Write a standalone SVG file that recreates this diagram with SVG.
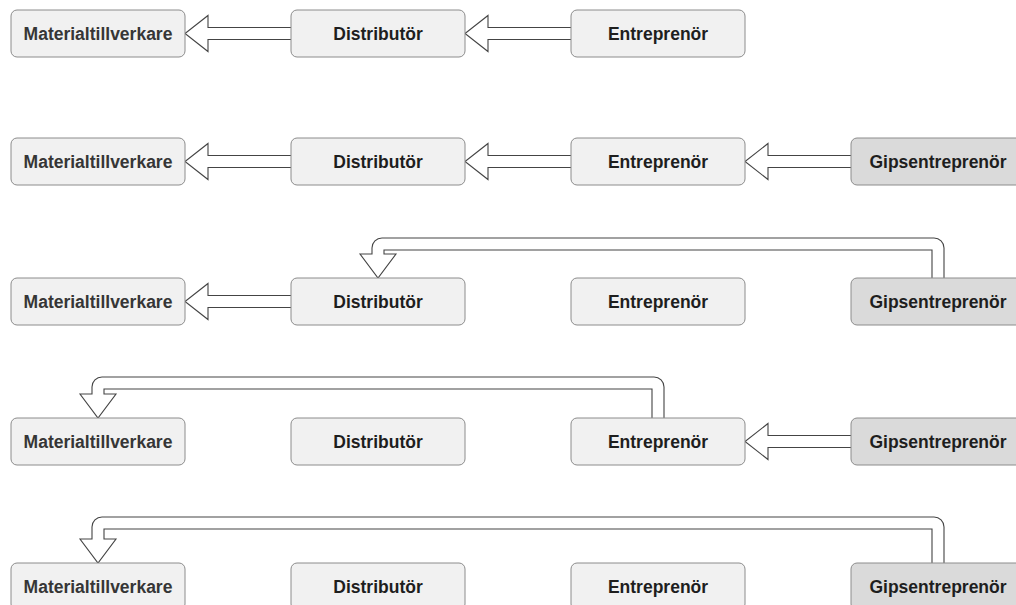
<svg xmlns="http://www.w3.org/2000/svg" width="1016" height="605" viewBox="0 0 1016 605">
  <style>
    .box { fill: #f1f1f1; stroke: #8c8c8c; stroke-width: 1; }
    .box.dark { fill: #dadada; }
    .lbl { font-family: "Liberation Sans", Arial, sans-serif; font-weight: bold; font-size: 17.5px; fill: #1e1e1e; text-anchor: middle; }
    .lbl.soft { fill: #363636; }
    .arrow { fill: #ffffff; stroke: #444444; stroke-width: 1.1; stroke-linejoin: miter; }
  </style>
  <rect width="1016" height="605" fill="#ffffff"/>

  <!-- block arrows, drawn beneath the boxes -->
  <g id="connectors">
    <!-- row 1 -->
    <path class="arrow" d="M292,27.5 L208,27.5 L208,15.5 L185,33.5 L208,51.5 L208,39.5 L292,39.5 Z"/>
    <path class="arrow" d="M572,27.5 L488,27.5 L488,15.5 L465,33.5 L488,51.5 L488,39.5 L572,39.5 Z"/>
    <!-- row 2 -->
    <path class="arrow" d="M292,155.5 L208,155.5 L208,143.5 L185,161.5 L208,179.5 L208,167.5 L292,167.5 Z"/>
    <path class="arrow" d="M572,155.5 L488,155.5 L488,143.5 L465,161.5 L488,179.5 L488,167.5 L572,167.5 Z"/>
    <path class="arrow" d="M852,155.5 L768,155.5 L768,143.5 L745,161.5 L768,179.5 L768,167.5 L852,167.5 Z"/>
    <!-- row 3 -->
    <path class="arrow" d="M292,295.5 L208,295.5 L208,283.5 L185,301.5 L208,319.5 L208,307.5 L292,307.5 Z"/>
    <path class="arrow" d="M944,279 L944,248 A10,10 0 0 0 934,238 L382,238 A10,10 0 0 0 372,248 L372,254 L360,254 L378,278 L396,254 L384,254 L384,250 L932,250 L932,279 Z"/>
    <!-- row 4 -->
    <path class="arrow" d="M664,419 L664,387 A10,10 0 0 0 654,377 L102,377 A10,10 0 0 0 92,387 L92,394 L80,394 L98,418 L116,394 L104,394 L104,389 L652,389 L652,419 Z"/>
    <path class="arrow" d="M852,435.5 L768,435.5 L768,423.5 L745,441.5 L768,459.5 L768,447.5 L852,447.5 Z"/>
    <!-- row 5 -->
    <path class="arrow" d="M944,564 L944,527 A10,10 0 0 0 934,517 L102,517 A10,10 0 0 0 92,527 L92,539 L80,539 L98,563 L116,539 L104,539 L104,529 L932,529 L932,564 Z"/>
  </g>

  <!-- row 1 -->
  <g id="r1-materialtillverkare"><rect class="box" x="11" y="10" width="174" height="47" rx="6"/><text class="lbl soft" x="98" y="39.5">Materialtillverkare</text></g>
  <g id="r1-distributor"><rect class="box" x="291" y="10" width="174" height="47" rx="6"/><text class="lbl" x="378" y="39.5">Distributör</text></g>
  <g id="r1-entreprenor"><rect class="box" x="571" y="10" width="174" height="47" rx="6"/><text class="lbl" x="658" y="39.5">Entreprenör</text></g>

  <!-- row 2 -->
  <g id="r2-materialtillverkare"><rect class="box" x="11" y="138" width="174" height="47" rx="6"/><text class="lbl soft" x="98" y="167.5">Materialtillverkare</text></g>
  <g id="r2-distributor"><rect class="box" x="291" y="138" width="174" height="47" rx="6"/><text class="lbl" x="378" y="167.5">Distributör</text></g>
  <g id="r2-entreprenor"><rect class="box" x="571" y="138" width="174" height="47" rx="6"/><text class="lbl" x="658" y="167.5">Entreprenör</text></g>
  <g id="r2-gipsentreprenor"><rect class="box dark" x="851" y="138" width="174" height="47" rx="6"/><text class="lbl" x="938" y="167.5">Gipsentreprenör</text></g>

  <!-- row 3 -->
  <g id="r3-materialtillverkare"><rect class="box" x="11" y="278" width="174" height="47" rx="6"/><text class="lbl soft" x="98" y="307.5">Materialtillverkare</text></g>
  <g id="r3-distributor"><rect class="box" x="291" y="278" width="174" height="47" rx="6"/><text class="lbl" x="378" y="307.5">Distributör</text></g>
  <g id="r3-entreprenor"><rect class="box" x="571" y="278" width="174" height="47" rx="6"/><text class="lbl" x="658" y="307.5">Entreprenör</text></g>
  <g id="r3-gipsentreprenor"><rect class="box dark" x="851" y="278" width="174" height="47" rx="6"/><text class="lbl" x="938" y="307.5">Gipsentreprenör</text></g>

  <!-- row 4 -->
  <g id="r4-materialtillverkare"><rect class="box" x="11" y="418" width="174" height="47" rx="6"/><text class="lbl soft" x="98" y="447.5">Materialtillverkare</text></g>
  <g id="r4-distributor"><rect class="box" x="291" y="418" width="174" height="47" rx="6"/><text class="lbl" x="378" y="447.5">Distributör</text></g>
  <g id="r4-entreprenor"><rect class="box" x="571" y="418" width="174" height="47" rx="6"/><text class="lbl" x="658" y="447.5">Entreprenör</text></g>
  <g id="r4-gipsentreprenor"><rect class="box dark" x="851" y="418" width="174" height="47" rx="6"/><text class="lbl" x="938" y="447.5">Gipsentreprenör</text></g>

  <!-- row 5 -->
  <g id="r5-materialtillverkare"><rect class="box" x="11" y="563" width="174" height="47" rx="6"/><text class="lbl soft" x="98" y="592.5">Materialtillverkare</text></g>
  <g id="r5-distributor"><rect class="box" x="291" y="563" width="174" height="47" rx="6"/><text class="lbl" x="378" y="592.5">Distributör</text></g>
  <g id="r5-entreprenor"><rect class="box" x="571" y="563" width="174" height="47" rx="6"/><text class="lbl" x="658" y="592.5">Entreprenör</text></g>
  <g id="r5-gipsentreprenor"><rect class="box dark" x="851" y="563" width="174" height="47" rx="6"/><text class="lbl" x="938" y="592.5">Gipsentreprenör</text></g>
</svg>
